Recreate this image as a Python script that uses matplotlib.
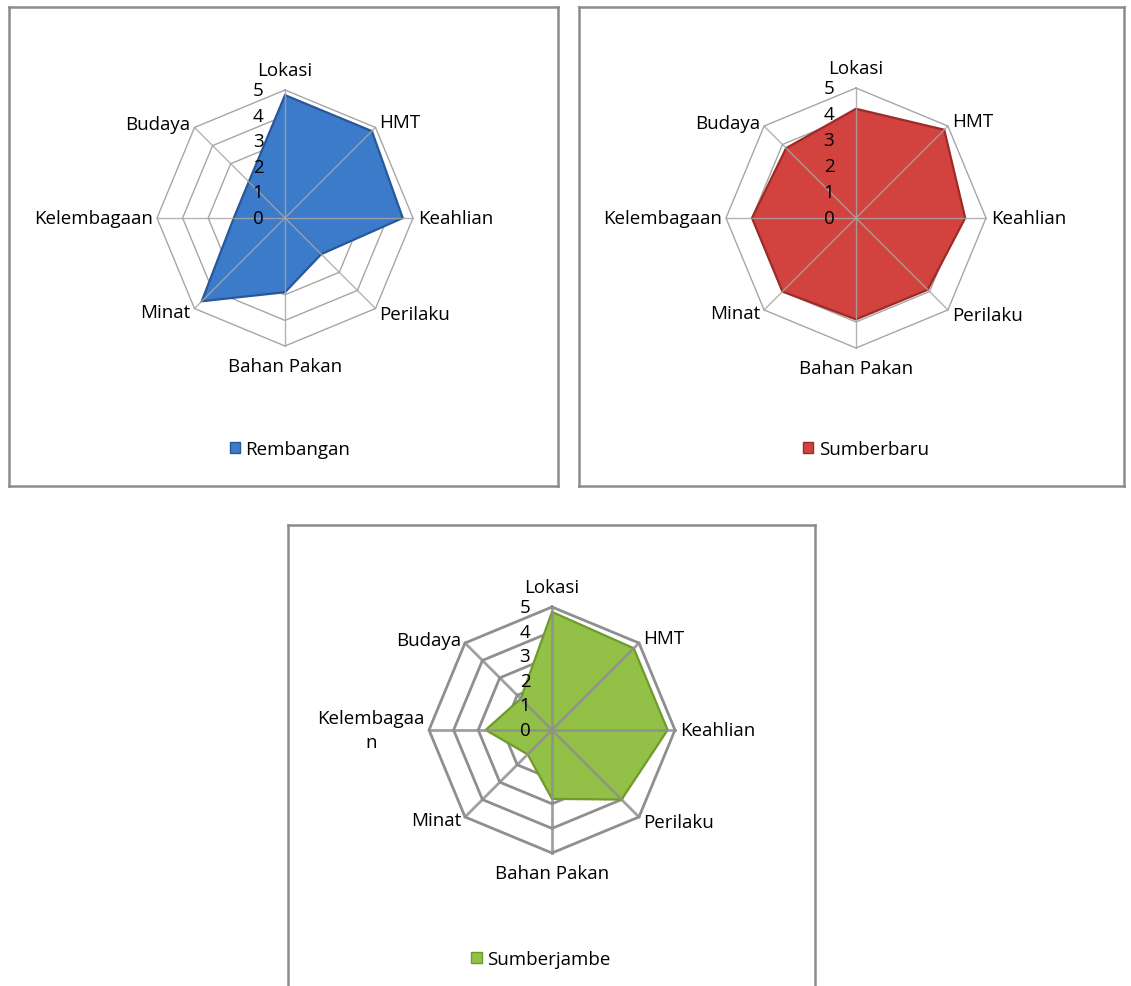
import numpy as np
import matplotlib.pyplot as plt
from matplotlib.patches import Patch

plt.rcParams['font.family'] = ['Open Sans', 'DejaVu Sans']

# data
categories = ['Lokasi', 'HMT', 'Keahlian', 'Perilaku', 'Bahan Pakan', 'Minat', 'Kelembagaan', 'Budaya']
categories_wrapped = ['Lokasi', 'HMT', 'Keahlian', 'Perilaku', 'Bahan Pakan', 'Minat', 'Kelembagaa\nn', 'Budaya']
ticks = [0, 1, 2, 3, 4, 5]

rembangan = [4.8, 4.8, 4.6, 2.0, 2.9, 4.6, 2.0, 2.0]
sumberbaru = [4.2, 4.8, 4.2, 3.9, 3.9, 4.0, 4.0, 3.8]
sumberjambe = [4.8, 4.7, 4.7, 4.0, 2.8, 1.4, 2.7, 1.8]

W, H = 1131, 987
fig = plt.figure(figsize=(W / 100, H / 100), dpi=100)
fig.patch.set_facecolor('white')

FS = 13.5

# label offsets (pixels) for each spoke, clockwise from top
lab_off = [(0, 20, 'center'), (4, 5, 'left'), (5, 0, 'left'), (4, -5, 'left'),
           (0, -20, 'center'), (-4, -3, 'right'), (-4, 0, 'right'), (-4, 3, 'right')]


def radar(box, center, radius, name, values, labels, face, edge, grid_col, grid_lw, legend_xy):
    x0, y0, x1, y1 = box
    ax = fig.add_axes([x0 / W, 1 - y1 / H, (x1 - x0) / W, (y1 - y0) / H])
    ppu = radius / 5.0
    cx, cy = center
    ax.set_xlim((x0 - cx) / ppu, (x1 - cx) / ppu)
    ax.set_ylim((cy - y1) / ppu, (cy - y0) / ppu)
    ax.set_xticks([])
    ax.set_yticks([])
    for s in ax.spines.values():
        s.set_color('#8c8c8c')
        s.set_linewidth(1.8)

    ang = np.arange(len(labels)) * 2 * np.pi / len(labels)
    sx, sy = np.sin(ang), np.cos(ang)

    # octagon rings
    for r in ticks[1:]:
        ax.plot(np.append(sx, sx[0]) * r, np.append(sy, sy[0]) * r,
                color=grid_col, lw=grid_lw, zorder=1, solid_joinstyle='miter')

    v = np.array(values)
    ax.fill(v * sx, v * sy, facecolor=face, edgecolor=edge, lw=1.6, zorder=2)

    # spokes drawn over the fill
    for i in range(len(labels)):
        ax.plot([0, ticks[-1] * sx[i]], [0, ticks[-1] * sy[i]],
                color=grid_col, lw=grid_lw, zorder=3, alpha=0.85)

    for t in ticks:
        ax.annotate(str(t), xy=(0, t), xytext=(-27, 0), textcoords='offset pixels',
                    ha='center', va='center', fontsize=FS, color='black', zorder=4)

    for i, lab in enumerate(labels):
        dx, dy, ha = lab_off[i]
        ax.annotate(lab, xy=(ticks[-1] * sx[i], ticks[-1] * sy[i]), xytext=(dx, dy),
                    textcoords='offset pixels', ha=ha, va='center',
                    multialignment='center', fontsize=FS, color='black',
                    linespacing=1.5, zorder=4)

    ax.legend(handles=[Patch(facecolor=face, edgecolor=edge, label=name)],
              loc='center', bbox_to_anchor=(legend_xy[0] / W, 1 - legend_xy[1] / H),
              bbox_transform=fig.transFigure, frameon=False, fontsize=FS,
              handlelength=0.55, handleheight=0.55, handletextpad=0.3)
    return ax


radar((9, 8, 558, 487), (285, 219), 128, 'Rembangan', rembangan, categories,
      '#3c7bca', '#28579a', '#a6a6a6', 1.0, (290, 450))
radar((579, 8, 1124, 487), (856, 219), 130, 'Sumberbaru', sumberbaru, categories,
      '#d2433f', '#9e2a28', '#a6a6a6', 1.0, (866, 450))
radar((288, 526, 815, 1005), (552, 731), 123, 'Sumberjambe', sumberjambe, categories_wrapped,
      '#93c047', '#6f9a2c', '#8f8f8f', 2.0, (541, 960))

fig.savefig('out.png', dpi=100, facecolor='white')
